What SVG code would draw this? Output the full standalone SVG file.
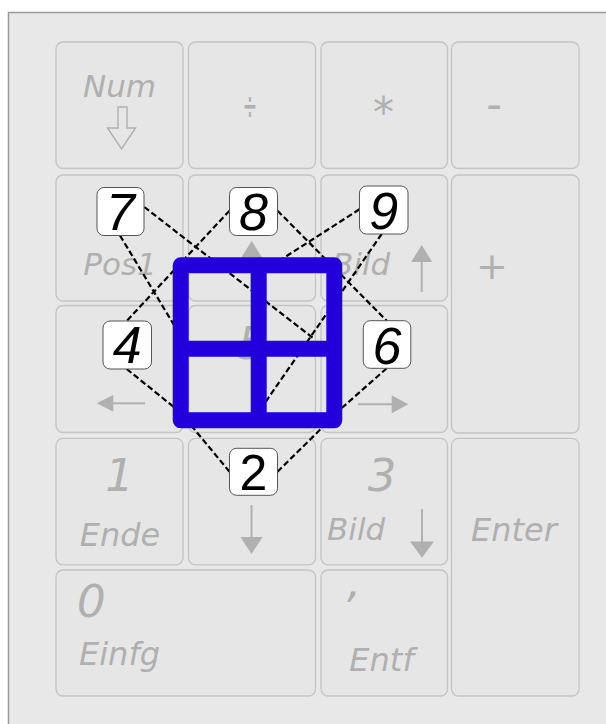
<svg xmlns="http://www.w3.org/2000/svg" width="606" height="724" viewBox="0 0 606 724">
<style>
.k{fill:#e6e6e6;stroke:#c4c4c4;stroke-width:1.3}
.t{font-family:'DejaVu Sans',sans-serif;font-style:oblique;fill:#b0b0b0}
.a{fill:#b0b0b0}
.s{stroke:#b0b0b0;stroke-width:2;fill:none}
.lb rect{fill:#ffffff;stroke:#555555;stroke-width:1}
.lb text{font-family:'Liberation Sans',Arial,sans-serif;font-style:italic;font-size:52px;text-anchor:middle;fill:#000000}
#connectors line{stroke:#000000;stroke-width:2.2;stroke-dasharray:6 3}
</style>
<rect x="0" y="0" width="606" height="724" fill="#ffffff"/>
<rect x="8.5" y="12.5" width="640" height="760" fill="#e8e8e8" stroke="#9a9a9a" stroke-width="1.5"/>
<g id="keypad">
<g id="key-num"><rect class="k" x="56" y="42" width="127" height="126.5" rx="7"/>
<text class="t" x="119.5" y="96.5" font-size="31" text-anchor="middle">Num</text>
<path d="M118,107 H127 V128 H135.5 L121.5,149 L107.5,128 H118 Z" fill="none" stroke="#b0b0b0" stroke-width="1.4"/></g>
<g id="key-div"><rect class="k" x="188.5" y="42" width="127" height="126.5" rx="7"/>
<text class="t" transform="translate(250,118.6) scale(0.43,1)" font-size="40" text-anchor="middle" style="font-style:normal">÷</text></g>
<g id="key-mul"><rect class="k" x="321" y="42" width="126.5" height="126.5" rx="7"/>
<text class="t" x="383.5" y="127" font-size="42" text-anchor="middle" style="font-style:normal">*</text></g>
<g id="key-minus"><rect class="k" x="451.5" y="42" width="127.5" height="126.5" rx="7"/>
<text class="t" x="494" y="119" font-size="44" text-anchor="middle">-</text></g>

<g id="key-7"><rect class="k" x="56" y="175" width="127" height="126" rx="7"/>
<text class="t" x="120" y="275" font-size="31" text-anchor="middle">Pos1</text></g>
<g id="key-8"><rect class="k" x="188.5" y="175" width="127" height="126" rx="7"/>
<polygon class="a" points="251.7,241 240.7,258.5 262.7,258.5"/><line class="s" x1="251.7" y1="258" x2="251.7" y2="292"/></g>
<g id="key-9"><rect class="k" x="321" y="175" width="126.5" height="126" rx="7"/>
<text class="t" x="332" y="275" font-size="31">Bild</text>
<polygon class="a" points="421.7,245 411.2,262 432.2,262"/><line class="s" x1="421.7" y1="261" x2="421.7" y2="292"/></g>
<g id="key-plus"><rect class="k" x="451.5" y="175" width="127.5" height="258" rx="7"/>
<text class="t" x="492" y="279" font-size="38" text-anchor="middle" style="font-style:normal">+</text></g>

<g id="key-4"><rect class="k" x="56" y="305.5" width="127" height="127" rx="7"/>
<polygon class="a" points="96.7,403.3 113.3,395 113.3,411.7"/><line class="s" x1="113" y1="403.3" x2="145" y2="403.3"/></g>
<g id="key-5"><rect class="k" x="188.5" y="305.5" width="127" height="127" rx="7"/>
<text class="t" x="252" y="358.5" font-size="45" text-anchor="middle">5</text></g>
<g id="key-6"><rect class="k" x="321" y="305.5" width="126.5" height="127" rx="7"/>
<polygon class="a" points="408.3,404.3 391.7,395.3 391.7,413.3"/><line class="s" x1="358" y1="404.3" x2="392" y2="404.3"/></g>

<g id="key-1"><rect class="k" x="56" y="438.3" width="127" height="126.5" rx="7"/>
<text class="t" x="119.5" y="491" font-size="45" text-anchor="middle">1</text>
<text class="t" x="120" y="546" font-size="32" text-anchor="middle">Ende</text></g>
<g id="key-2"><rect class="k" x="188.5" y="438.3" width="127" height="126.5" rx="7"/>
<line class="s" x1="251.5" y1="505" x2="251.5" y2="539"/><polygon class="a" points="240.5,537 262.5,537 251.5,554"/></g>
<g id="key-3"><rect class="k" x="321" y="438.3" width="126.5" height="126.5" rx="7"/>
<text class="t" x="382" y="491" font-size="45" text-anchor="middle">3</text>
<text class="t" x="327" y="540" font-size="31">Bild</text>
<line class="s" x1="422" y1="509" x2="422" y2="543"/><polygon class="a" points="410,541.5 434,541.5 422,557.7"/></g>
<g id="key-enter"><rect class="k" x="451.5" y="438.3" width="127.5" height="257.7" rx="7"/>
<text class="t" x="514" y="541" font-size="32" text-anchor="middle">Enter</text></g>

<g id="key-0"><rect class="k" x="56" y="570" width="259.5" height="126" rx="7"/>
<text class="t" x="77" y="616.7" font-size="45">0</text>
<text class="t" x="79" y="665" font-size="32">Einfg</text></g>
<g id="key-comma"><rect class="k" x="321" y="570" width="126.5" height="126" rx="7"/>
<text class="t" x="354" y="597" font-size="44" text-anchor="middle">,</text>
<text class="t" x="381.5" y="670.5" font-size="32" text-anchor="middle">Entf</text></g>
</g>

<g id="connectors">
<line x1="144.3" y1="207" x2="313" y2="338"/>
<line x1="120" y1="235.5" x2="180" y2="335"/>
<line x1="229.5" y1="210.7" x2="126.7" y2="321"/>
<line x1="277.5" y1="210.7" x2="386.7" y2="320.7"/>
<line x1="359.5" y1="209.3" x2="282" y2="259"/>
<line x1="381.7" y1="234" x2="260" y2="410"/>
<line x1="126.7" y1="369" x2="180" y2="412"/>
<line x1="229.5" y1="471.7" x2="185" y2="418"/>
<line x1="277.5" y1="471.7" x2="332" y2="418"/>
<line x1="386.7" y1="368.3" x2="335" y2="414"/>
</g>

<g id="grid">
<path d="M180.7,265.3 H334.3 V420.3 H180.7 Z M258.7,265.3 V420.3 M180.7,348.7 H334.3" fill="none" stroke="#2100dc" stroke-width="16" stroke-linejoin="round"/>
</g>

<g id="label-7" class="lb"><rect x="97" y="187.5" width="47" height="48" rx="7"/><text x="120.5" y="229.5">7</text></g>
<g id="label-8" class="lb"><rect x="229.5" y="187.5" width="48" height="48" rx="7"/><text x="253.5" y="229.5">8</text></g>
<g id="label-9" class="lb"><rect x="359.5" y="186" width="48.5" height="48" rx="7"/><text x="383.7" y="228.8">9</text></g>
<g id="label-4" class="lb"><rect x="103" y="321" width="48.5" height="48" rx="7"/><text x="127.2" y="363.3">4</text></g>
<g id="label-6" class="lb"><rect x="363.3" y="320.7" width="47.5" height="47.6" rx="7"/><text x="387" y="363.5">6</text></g>
<g id="label-2" class="lb"><rect x="229.5" y="448.3" width="48" height="47" rx="7"/><text x="253.5" y="490" style="font-style:normal;font-size:50px">2</text></g>
</svg>
